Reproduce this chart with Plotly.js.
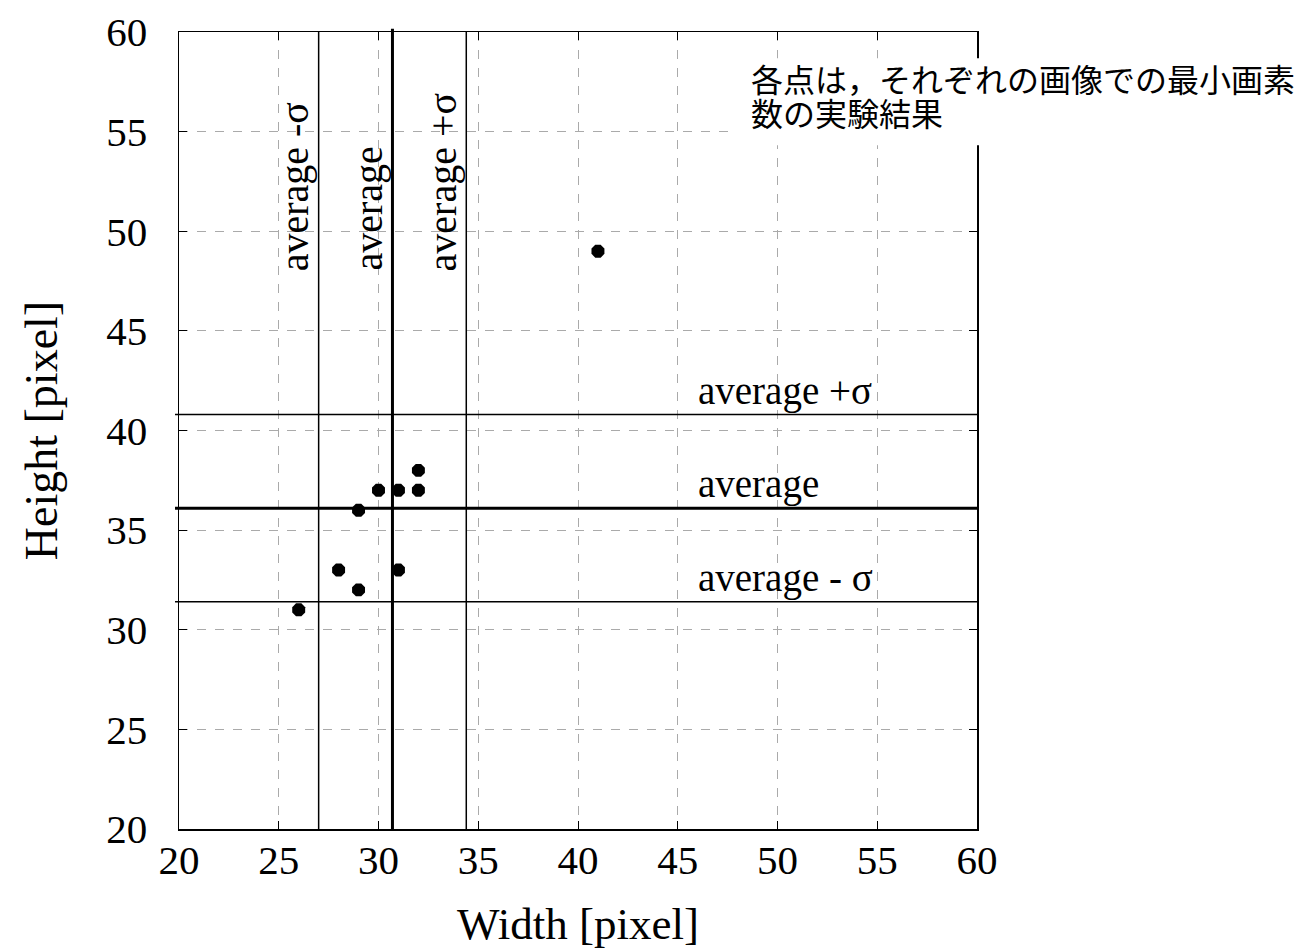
<!DOCTYPE html>
<html>
<head>
<meta charset="utf-8">
<script src="https://cdn.plot.ly/plotly-3.0.1.min.js"></script>
<style>html,body{margin:0;padding:0;background:#fff;}#chart{width:1309px;height:949px;}</style>
</head>
<body>
<div id="chart"></div>
<script>
// Data
const widths  = [26, 28, 29, 29, 30, 31, 31, 32, 32, 41];
const heights = [31, 33, 32, 36, 37, 37, 33, 38, 37, 49];
const avgWidth = 30.7, sdWidth = 3.7;
const avgHeight = 36.1, sdHeight = 4.7;
const tickVals = [20, 25, 30, 35, 40, 45, 50, 55, 60];
const lineLabels = ['average -σ', 'average', 'average +σ'];
const hLineLabels = ['average +σ', 'average', 'average - σ'];
const noteLines = ['各点は，それぞれの画像での最小画素', '数の実験結果'];

const serif = 'Liberation Serif, Times New Roman, serif';

const vVals = [avgWidth - sdWidth, avgWidth, avgWidth + sdWidth];
const hVals = [avgHeight + sdHeight, avgHeight, avgHeight - sdHeight];

const shapes = [];
vVals.forEach((v, i) => {
  shapes.push({type: 'line', xref: 'x', yref: 'paper', x0: v, x1: v,
    y0: 0, y1: i === 1 ? 1.004 : 1, line: {color: '#000', width: i === 1 ? 3 : 1.5}, layer: 'above'});
});
hVals.forEach((v, i) => {
  shapes.push({type: 'line', xref: 'paper', yref: 'y', x0: -0.005, x1: 1,
    y0: v, y1: v, line: {color: '#000', width: i === 1 ? 3 : 1.5}, layer: 'above'});
});
// white box behind the note
shapes.push({type: 'rect', xref: 'paper', yref: 'paper', x0: 0.697, x1: 1.42, y0: 0.858, y1: 0.967,
  fillcolor: '#fff', line: {width: 0}, layer: 'above'});

const annotations = [];
const vLabelX = [vVals[0] - 1.2, vVals[1] - 1.2, vVals[2] - 1.2];
vVals.forEach((v, i) => {
  annotations.push({x: vLabelX[i], y: 47.9, xref: 'x', yref: 'y', text: lineLabels[i],
    textangle: -90, showarrow: false, xanchor: 'center', yanchor: 'bottom',
    font: {family: serif, size: 40, color: '#000'}});
});
const hLabelY = [hVals[0] + 1.2, hVals[1] + 1.2, hVals[2] + 1.2];
hVals.forEach((v, i) => {
  annotations.push({x: 45.9, y: hLabelY[i], xref: 'x', yref: 'y', text: hLineLabels[i],
    showarrow: false, xanchor: 'left', yanchor: 'middle',
    font: {family: serif, size: 39, color: '#000'}});
});
const noteY = [0.9423, 0.8996];
noteLines.forEach((t, i) => {
  annotations.push({x: 0.714, y: noteY[i], xref: 'paper', yref: 'paper', text: t,
    showarrow: false, xanchor: 'left', yanchor: 'middle', align: 'left',
    font: {family: 'Noto Sans CJK JP, sans-serif', size: 32, color: '#000'}});
});

const trace = {
  x: widths, y: heights, type: 'scatter', mode: 'markers',
  marker: {symbol: 'octagon', size: 14, color: '#000'},
  cliponaxis: false, showlegend: false
};

const axisCommon = {
  range: [20, 60], tickvals: tickVals, ticks: 'inside', ticklen: 8, tickcolor: '#000',
  showline: true, linecolor: '#000', linewidth: 1.5, mirror: 'ticks',
  showgrid: true, gridcolor: '#aaa', griddash: 'dash', gridwidth: 1,
  zeroline: false, tickfont: {family: serif, size: 41, color: '#000'}
};

const layout = {
  width: 1309, height: 949,
  margin: {l: 179, r: 332, t: 32, b: 120},
  paper_bgcolor: '#fff', plot_bgcolor: '#fff',
  xaxis: Object.assign({}, axisCommon, {
    ticklabelstandoff: -6,
    title: {text: 'Width [pixel]', font: {family: serif, size: 45, color: '#000'}, standoff: 26}
  }),
  yaxis: Object.assign({}, axisCommon, {
    ticklabelstandoff: 22,
    title: {text: 'Height [pixel]', font: {family: serif, size: 46, color: '#000'}, standoff: 34}
  }),
  shapes: shapes,
  annotations: annotations
};

Plotly.newPlot('chart', [trace], layout, {displayModeBar: false, staticPlot: true});
</script>
</body>
</html>
